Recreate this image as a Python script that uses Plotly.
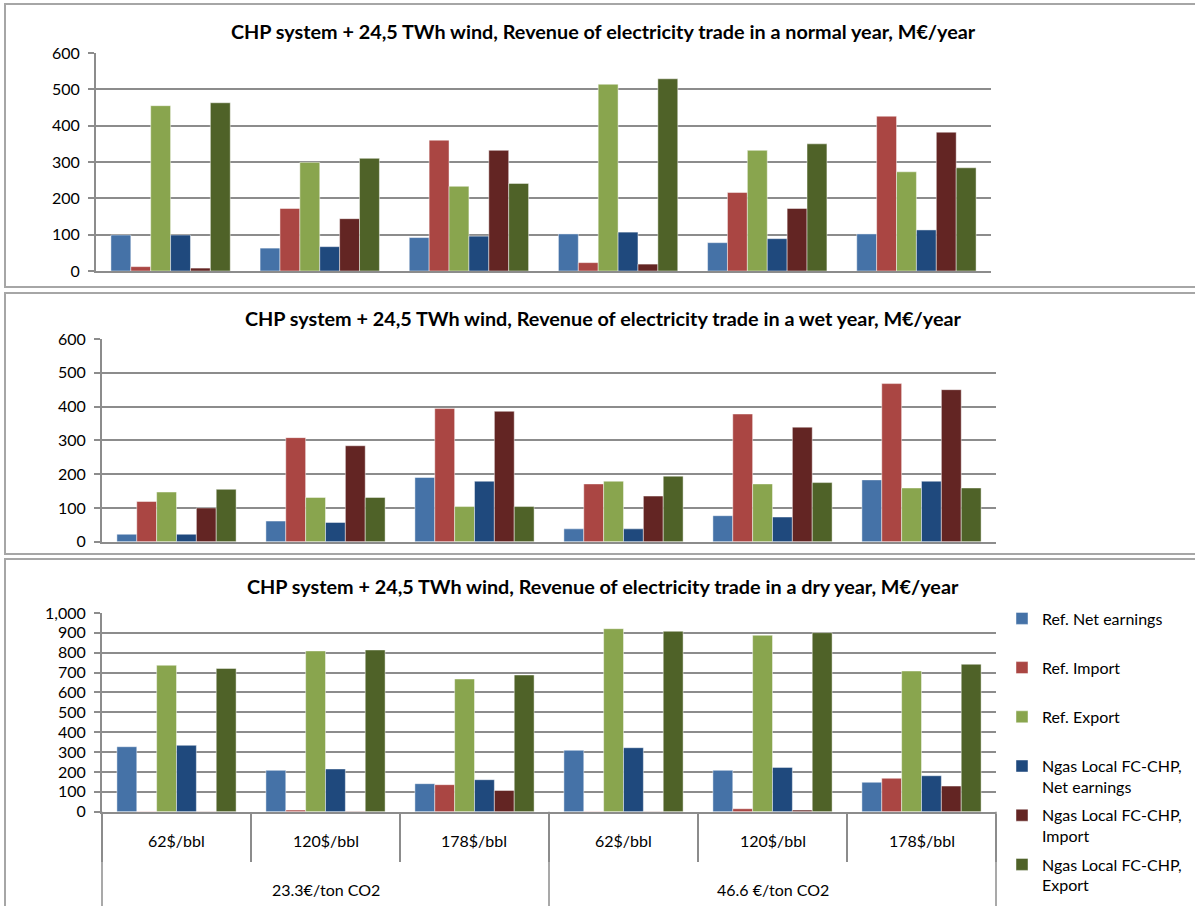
import plotly.graph_objects as go

# Scenario categories: CO2 price (outer level) and oil price (inner level)
co2_levels = ["23.3€/ton CO2", "46.6 €/ton CO2"]
oil_levels = ["62$/bbl", "120$/bbl", "178$/bbl"]
co2_price = [c for c in co2_levels for _ in oil_levels]
oil_price = oil_levels * len(co2_levels)

series_names = [
    "Ref. Net earnings",
    "Ref. Import",
    "Ref. Export",
    "Ngas Local FC-CHP,<br>Net earnings",
    "Ngas Local FC-CHP,<br>Import",
    "Ngas Local FC-CHP,<br>Export",
]
series_colors = ["#4572A7", "#AA4643", "#89A54E", "#1F497D", "#632523", "#4F6228"]

# Revenue of electricity trade, M€/year — normal year
normal_ref_net = [99, 63, 92, 102, 78, 102]
normal_ref_import = [12, 172, 360, 23, 216, 426]
normal_ref_export = [455, 299, 233, 514, 332, 273]
normal_ngas_net = [99, 67, 96, 107, 89, 113]
normal_ngas_import = [8, 144, 332, 19, 172, 382]
normal_ngas_export = [463, 310, 241, 529, 350, 284]

# Wet year
wet_ref_net = [22, 61, 190, 38, 77, 183]
wet_ref_import = [119, 308, 394, 171, 378, 468]
wet_ref_export = [147, 131, 104, 179, 171, 159]
wet_ngas_net = [22, 57, 179, 38, 73, 179]
wet_ngas_import = [100, 284, 386, 135, 339, 450]
wet_ngas_export = [155, 131, 104, 194, 175, 159]

# Dry year
dry_ref_net = [327, 208, 141, 309, 208, 148]
dry_ref_import = [-8, 8, 136, -7, 15, 168]
dry_ref_export = [737, 809, 668, 921, 888, 708]
dry_ngas_net = [334, 215, 161, 322, 223, 181]
dry_ngas_import = [-8, 2, 107, -7, 8, 129]
dry_ngas_export = [721, 814, 688, 908, 901, 742]

panels = [
    ("normal year", [normal_ref_net, normal_ref_import, normal_ref_export,
                     normal_ngas_net, normal_ngas_import, normal_ngas_export]),
    ("wet year", [wet_ref_net, wet_ref_import, wet_ref_export,
                  wet_ngas_net, wet_ngas_import, wet_ngas_export]),
    ("dry year", [dry_ref_net, dry_ref_import, dry_ref_export,
                  dry_ngas_net, dry_ngas_import, dry_ngas_export]),
]

W, H = 1195, 906
FONT = "Lato"
GRID = "#8c8c8c"
BORDER = "#a6a6a6"


def px_x(p):
    return p / W


def px_y(p):
    return 1 - p / H


fig = go.Figure()

for i, (label, data) in enumerate(panels):
    axn = "" if i == 0 else str(i + 1)
    for name, color, vals in zip(series_names, series_colors, data):
        legend_name = name if "<br>" in name else name + "<br> "
        fig.add_trace(go.Bar(
            x=[co2_price, oil_price], y=vals, name=legend_name,
            marker=dict(color=color, line=dict(color="rgba(255,255,255,0.45)", width=1)),
            xaxis="x" + axn, yaxis="y" + axn,
            cliponaxis=False,
            showlegend=(i == 2), legendgroup=name,
        ))

# Plot area positions (pixels) for each panel
plot_x = [(96, 991), (102, 996), (102, 996)]
plot_y = [(53, 271), (339, 541.7), (613, 811.7)]
y_max = [600, 600, 1000]
title_y = [31, 318, 586]
boxes = [(4, 287), (293, 554), (559, 930)]

layout = dict(
    width=W, height=H,
    margin=dict(l=0, r=0, t=0, b=0, autoexpand=False),
    paper_bgcolor="white", plot_bgcolor="white",
    font=dict(family=FONT, size=16, color="#000000"),
    barmode="group", bargap=0.2, bargroupgap=0,
    legend=dict(
        x=px_x(1002), y=px_y(601.5), xanchor="left", yanchor="top",
        valign="top", tracegroupgap=4.6,
        font=dict(family=FONT, size=16, color="#000000"),
        bgcolor="rgba(0,0,0,0)",
    ),
    shapes=[], annotations=[],
)

for i in range(3):
    axn = "" if i == 0 else str(i + 1)
    bottom = i == 2
    layout["xaxis" + axn] = dict(
        type="multicategory",
        domain=[px_x(plot_x[i][0]), px_x(plot_x[i][1])],
        anchor="y" + axn, automargin=False,
        showline=True, linecolor=GRID, linewidth=2,
        showgrid=False, zeroline=False,
        showticklabels=False, showdividers=False,
        ticks="outside" if bottom else "",
        tickson="boundaries", ticklen=48, tickcolor=GRID, tickwidth=1.5,
    )
    layout["yaxis" + axn] = dict(
        domain=[px_y(plot_y[i][1]), px_y(plot_y[i][0])],
        anchor="x" + axn, automargin=False,
        range=[0, y_max[i]], dtick=100,
        tickformat=",d",
        showline=True, linecolor=GRID, linewidth=2,
        showgrid=True, gridcolor=GRID, gridwidth=1.5,
        zeroline=False,
        ticks="outside", ticklen=6, tickcolor=GRID, tickwidth=1.5,
        ticklabelstandoff=5,
        tickfont=dict(family=FONT, size=16, color="#000000"),
    )
    layout["annotations"].append(dict(
        text="<b>CHP system + 24,5 TWh wind, Revenue of electricity trade in a "
             + panels[i][0] + ", M€/year</b>",
        x=px_x(603), y=px_y(title_y[i]), xref="paper", yref="paper",
        xanchor="center", yanchor="middle", showarrow=False,
        font=dict(family=FONT, size=19.8, color="#000000"),
    ))
    layout["shapes"].append(dict(
        type="rect", xref="paper", yref="paper",
        x0=px_x(5), x1=px_x(1215), y0=px_y(boxes[i][1]), y1=px_y(boxes[i][0]),
        line=dict(color=BORDER, width=2), fillcolor="rgba(0,0,0,0)", layer="below",
    ))

# Two-level category labels under the dry-year panel
x0, x1 = plot_x[2]
axis_y = plot_y[2][1]
n_inner = len(oil_price)
slot = (x1 - x0) / n_inner
for k, lab in enumerate(oil_price):
    layout["annotations"].append(dict(
        text=lab, x=px_x(x0 + (k + 0.5) * slot), y=px_y(840.5),
        xref="paper", yref="paper", xanchor="center", yanchor="middle",
        showarrow=False, font=dict(family=FONT, size=16, color="#000000"),
    ))
n_in = len(oil_levels)
for g, lab in enumerate(co2_levels):
    layout["annotations"].append(dict(
        text=lab, x=px_x(x0 + (g * n_in + n_in / 2) * slot), y=px_y(889),
        xref="paper", yref="paper", xanchor="center", yanchor="middle",
        showarrow=False, font=dict(family=FONT, size=16, color="#000000"),
    ))
# Dividers between the outer category groups
for g in range(len(co2_levels) + 1):
    xb = px_x(x0 + g * n_in * slot)
    layout["shapes"].append(dict(
        type="line", xref="paper", yref="paper",
        x0=xb, x1=xb, y0=px_y(axis_y), y1=px_y(930),
        line=dict(color=GRID, width=1.5),
    ))

fig.update_layout(**layout)
fig.write_html("out.html")
